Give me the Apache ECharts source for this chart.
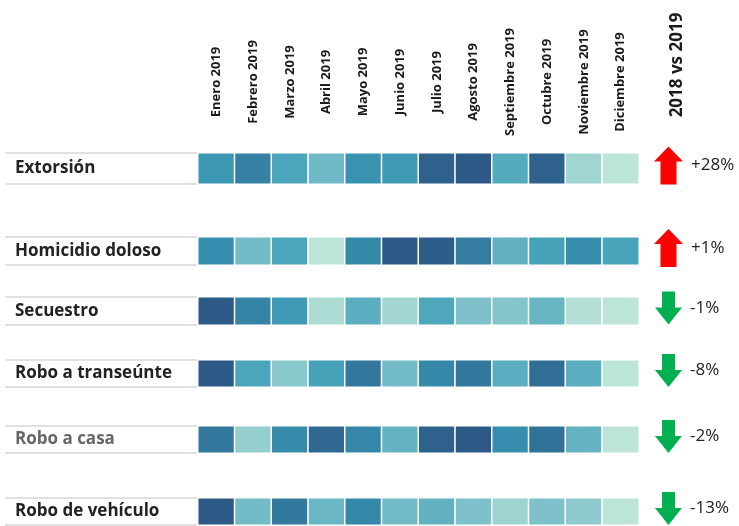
<!DOCTYPE html>
<html><head><meta charset="utf-8">
<script src="https://cdn.jsdelivr.net/npm/echarts@6/dist/echarts.min.js"></script>
<style>html,body{margin:0;padding:0;background:#fff}#c{width:739px;height:526px}</style>
</head><body><div id="c"></div>
<script>
// ---- data ----
const months = ['Enero 2019','Febrero 2019','Marzo 2019','Abril 2019','Mayo 2019','Junio 2019','Julio 2019','Agosto 2019','Septiembre 2019','Octubre 2019','Noviembre 2019','Diciembre 2019'];
const crimes = ['Extorsión','Homicidio doloso','Secuestro','Robo a transeúnte','Robo a casa','Robo de vehículo'];
// relative monthly intensity (0 = lightest, 8 = darkest), estimated from cell shading
const extorsion   = [4.6,5.8,3.8,2.6,4.8,4.4,7.5,8.0,3.5,7.5,0.9,0.0];
const homicidio   = [5.0,2.5,3.8,0.0,5.4,8.0,7.7,6.0,3.1,4.0,5.1,3.9];
const secuestro   = [8.0,5.6,4.4,0.5,3.3,0.8,3.7,2.1,1.9,2.9,0.3,0.0];
const transeunte  = [8.0,3.8,1.7,4.0,6.3,2.5,5.4,6.3,3.3,6.8,3.3,0.0];
const casa        = [6.3,1.3,5.2,7.1,5.5,3.0,7.5,8.0,5.1,6.6,3.0,0.0];
const vehiculo    = [8.0,2.5,6.2,2.8,5.4,2.5,3.1,2.1,1.0,2.1,1.5,0.0];
const changePct   = [28, 1, -1, -8, -2, -13];   // 2018 vs 2019
const compareTitle = '2018 vs 2019';

const rowValues = [extorsion, homicidio, secuestro, transeunte, casa, vehiculo];

// ---- layout (positions only) ----
const rowBands = [[153,184],[237,265],[297,325],[360,387],[426,453],[498,525]];
const cellLeft = 198, cellRight = 639, lineLeft = 5;
const palette = ['#bce4d8','#9dd3d1','#81c3cb','#65b3c2','#45a2b9','#368fae','#347da0','#306a93','#2c5985'];
const FONT = '"Open Sans"';

const grids = [], xAxes = [], yAxes = [], series = [], graphics = [];
rowBands.forEach((b, i) => {
  const top = b[0], h = b[1] - b[0];
  // heatmap grid
  grids.push({left: cellLeft, width: cellRight - cellLeft, top: top, height: h});
  xAxes.push({
    type: 'category', data: months, gridIndex: grids.length - 1, position: 'top',
    axisLine: {show: false}, axisTick: {show: false}, splitLine: {show: false},
    axisLabel: i === 0 ? {show: true, rotate: -90, margin: 71, align: 'center', verticalAlign: 'middle',
      fontFamily: FONT, fontWeight: 'bold', fontSize: 13, color: '#1a1a1a', interval: 0} : {show: false}
  });
  yAxes.push({
    type: 'category', data: [crimes[i]], gridIndex: grids.length - 1,
    axisLine: {show: false}, axisTick: {show: false}, splitLine: {show: false},
    axisLabel: {show: true, align: 'left', margin: cellLeft - 15, fontFamily: FONT,
      fontWeight: 'bold', fontSize: 17, color: crimes[i] === 'Robo a casa' ? '#666' : '#222'}
  });
  series.push({
    type: 'heatmap', xAxisIndex: xAxes.length - 1, yAxisIndex: yAxes.length - 1,
    data: rowValues[i].map((v, j) => [j, 0, v]),
    itemStyle: {borderColor: '#fff', borderWidth: 1.5},
    emphasis: {disabled: true}
  });
  // arrow grid
  grids.push({left: 654, width: 29, top: top - 3, height: h});
  xAxes.push({type: 'category', data: [compareTitle], gridIndex: grids.length - 1, show: false});
  yAxes.push({type: 'category', data: [crimes[i]], gridIndex: grids.length - 1, show: false});
  const up = changePct[i] >= 0;
  series.push({
    type: 'scatter', xAxisIndex: xAxes.length - 1, yAxisIndex: yAxes.length - 1,
    data: [[0, 0, changePct[i]]],
    symbol: up ? 'path://M14.5,0 L29,15 L22.5,15 L22.5,38 L6.5,38 L6.5,15 L0,15 Z'
               : 'path://M7,0 L20,0 L20,16 L27,16 L13.5,33 L0,16 L7,16 Z',
    symbolSize: up ? [29, 38] : [27, 33], symbolKeepAspect: false,
    itemStyle: {color: up ? '#ff0000' : '#00b050', opacity: 1},
    label: {show: true, position: 'right', distance: 8, fontFamily: FONT, fontSize: 17, color: '#222',
      formatter: p => (p.value[2] > 0 ? '+' : '') + p.value[2] + '%'},
    emphasis: {disabled: true}
  });
  // row separator lines
  [b[0], b[1]].forEach(y => graphics.push({type: 'line', shape: {x1: lineLeft, y1: y, x2: cellRight, y2: y},
    style: {stroke: '#d6d6d6', lineWidth: 1.5}, silent: true}));
});
graphics.push({type: 'text', x: 677, y: 65, rotation: Math.PI / 2,
  style: {text: compareTitle, font: 'bold 17px ' + FONT, fill: '#1a1a1a', textAlign: 'center', textVerticalAlign: 'middle'}});

const chart = echarts.init(document.getElementById('c'));
chart.setOption({
  animation: false,
  backgroundColor: '#fff',
  grid: grids, xAxis: xAxes, yAxis: yAxes,
  visualMap: {show: false, min: 0, max: 8, seriesIndex: series.map((s, k) => s.type === 'heatmap' ? k : -1).filter(k => k >= 0),
    inRange: {color: palette}},
  series: series,
  graphic: graphics
});
</script></body></html>
